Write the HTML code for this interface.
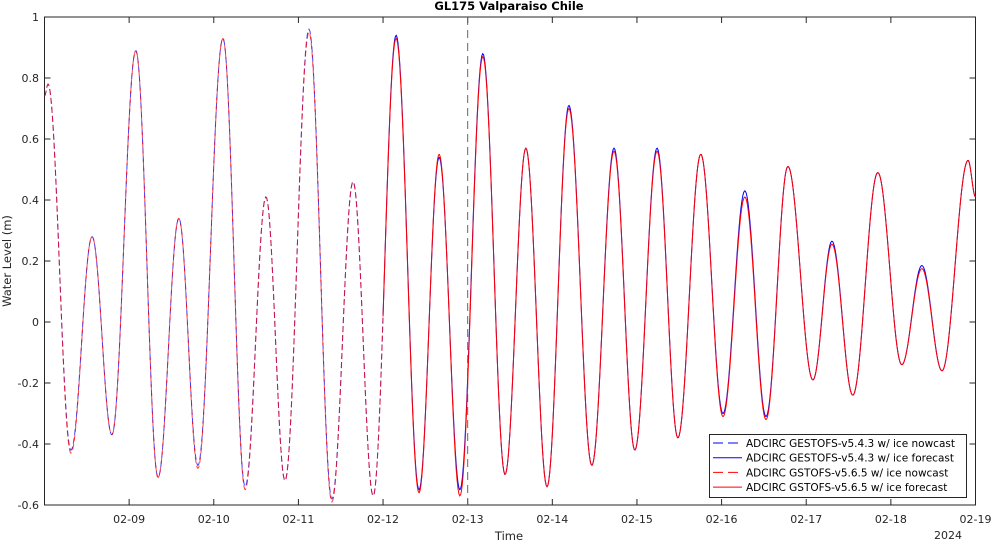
<!DOCTYPE html>
<html><head><meta charset="utf-8">
<style>
html,body{margin:0;padding:0;background:#fff;}
svg{display:block;font-family:"DejaVu Sans","Liberation Sans",sans-serif;}
</style></head>
<body>
<svg id="chart" width="992" height="541" viewBox="0 0 992 541" xmlns="http://www.w3.org/2000/svg">
<rect width="992" height="541" fill="#fff"/>
<text x="509" y="10" font-size="11.5" font-weight="bold" text-anchor="middle">GL175 Valparaiso Chile</text>
<text transform="translate(11,261) rotate(-90)" font-size="11.5" text-anchor="middle" fill="#262626">Water Level (m)</text>
<text x="509" y="540" font-size="11.5" text-anchor="middle" fill="#262626">Time</text>
<text x="948" y="539" font-size="11" text-anchor="middle" fill="#262626">2024</text>
<g id="axes"></g>
<g id="series"></g>
<g id="legend"></g>
</svg>
<script>
// time in hours from 2024-02-08 00:00
const extremaHours = [0,1,7.5,13.5,19.1,25.9,32.2,38.1,43.5,50.6,56.9,62.8,68.2,75.0,81.5,87.5,93.2,99.7,106.2,111.9,117.8,124.3,130.6,136.5,142.5,148.7,155.2,161.5,167.4,173.7,179.6,186.1,192.4,198.6,204.6,210.8,217.9,223.3,229.2,236.3,243.1,248.8,254.5,261.9,264];
const gestofsValues = [0.74,0.78,-0.42,0.28,-0.37,0.89,-0.51,0.34,-0.47,0.93,-0.54,0.41,-0.52,0.96,-0.58,0.46,-0.57,0.94,-0.55,0.54,-0.55,0.88,-0.50,0.57,-0.54,0.71,-0.47,0.57,-0.42,0.57,-0.38,0.55,-0.30,0.43,-0.31,0.51,-0.19,0.265,-0.24,0.49,-0.14,0.185,-0.16,0.53,0.41];
const gstofsValues  = [0.74,0.78,-0.43,0.28,-0.37,0.89,-0.51,0.34,-0.48,0.93,-0.55,0.41,-0.52,0.95,-0.59,0.46,-0.57,0.93,-0.56,0.55,-0.57,0.87,-0.50,0.57,-0.54,0.70,-0.47,0.56,-0.42,0.56,-0.38,0.55,-0.31,0.41,-0.32,0.51,-0.19,0.255,-0.24,0.49,-0.14,0.175,-0.16,0.53,0.41];
const forecastStartHour = 96;
const dividerHour = 120;
const xTickLabels = ["02-09","02-10","02-11","02-12","02-13","02-14","02-15","02-16","02-17","02-18","02-19"];
const yTickValues = [-0.6,-0.4,-0.2,0,0.2,0.4,0.6,0.8,1];
const legendLabels = ["ADCIRC GESTOFS-v5.4.3 w/ ice nowcast","ADCIRC GESTOFS-v5.4.3 w/ ice forecast","ADCIRC GSTOFS-v5.6.5 w/ ice nowcast","ADCIRC GSTOFS-v5.6.5 w/ ice forecast"];

const L=44.5,R=975.5,T=17,B=505;
const xMax=264,yMin=-0.6,yMax=1;
function xScale(h){return L+(h/xMax)*(R-L);}
function yScale(v){return B-(v-yMin)/(yMax-yMin)*(B-T);}
const NS="http://www.w3.org/2000/svg";
function mk(tag,attrs,parent){const e=document.createElementNS(NS,tag);for(const k in attrs)e.setAttribute(k,attrs[k]);parent.appendChild(e);return e;}

const axes=document.getElementById('axes');
const frame=mk('rect',{x:L,y:T,width:R-L,height:B-T,fill:'none',stroke:'#262626','stroke-width':1},axes);


xTickLabels.forEach((lab,i)=>{
  const x=xScale((i+1)*24);
  const t1=mk('line',{x1:x,x2:x,y1:B,y2:B-6,stroke:'#262626'},axes);
  
  
  mk('line',{x1:x,x2:x,y1:T,y2:T+6,stroke:'#262626'},axes);
  const tx=mk('text',{x:x,y:523,'font-size':11,'text-anchor':'middle',fill:'#262626'},axes);
  tx.textContent=lab;
  
  
});
yTickValues.forEach(v=>{
  const y=yScale(v);
  const t1=mk('line',{x1:L,x2:L+6,y1:y,y2:y,stroke:'#262626'},axes);
  
  
  mk('line',{x1:R,x2:R-6,y1:y,y2:y,stroke:'#262626'},axes);
  const tx=mk('text',{x:39,y:y+4,'font-size':11,'text-anchor':'end',fill:'#262626'},axes);
  tx.textContent=(v===0||v===1)?String(v):v.toFixed(1);
  
  
});
const vl=mk('line',{x1:xScale(dividerHour),x2:xScale(dividerHour),y1:T,y2:B,stroke:'#666','stroke-width':1,'stroke-dasharray':'8,5'},axes);



// smooth (half-cosine) curve through the extrema
function valueAt(hours,vals,h){
  let i=0;
  while(i<hours.length-2&&h>hours[i+1])i++;
  const a=hours[i],b=hours[i+1];
  const k=Math.max(0,Math.min(1,(h-a)/(b-a)));
  const f=(1-Math.cos(Math.PI*k))/2;
  return vals[i]+(vals[i+1]-vals[i])*f;
}
function samplePts(hours,vals,h0,h1){
  const pts=[];
  const step=0.25;
  for(let h=h0;h<h1;h+=step)pts.push([xScale(h),yScale(valueAt(hours,vals,h))]);
  pts.push([xScale(h1),yScale(valueAt(hours,vals,h1))]);
  return pts;
}
function pathD(p){return p.map((q,i)=>(i?'L':'M')+q[0].toFixed(2)+','+q[1].toFixed(2)).join('');}
const series=document.getElementById('series');
const specs=[
  {vals:gestofsValues,color:'#0000ff',dash:true,name:'gestofs-nowcast-line',h0:0,h1:forecastStartHour},
  {vals:gestofsValues,color:'#0000ff',dash:false,name:'gestofs-forecast-line',h0:forecastStartHour,h1:xMax},
  {vals:gstofsValues,color:'#ff0000',dash:true,name:'gstofs-nowcast-line',h0:0,h1:forecastStartHour},
  {vals:gstofsValues,color:'#ff0000',dash:false,name:'gstofs-forecast-line',h0:forecastStartHour,h1:xMax}
];
specs.forEach(s=>{
  const p=mk('path',{d:pathD(samplePts(extremaHours,s.vals,s.h0,s.h1)),fill:'none',stroke:s.color,'stroke-width':1,'stroke-dasharray':s.dash?'6,3':'none','stroke-opacity':s.dash?0.75:1},series);
  
  
});

const lg=document.getElementById('legend');
const lb=mk('rect',{x:709.5,y:434.5,width:257,height:63,fill:'#fff',stroke:'#262626','stroke-width':1},lg);


legendLabels.forEach((lab,i)=>{
  const y=443+i*14.7;
  const s=specs[i];
  mk('line',{x1:713,x2:742,y1:y,y2:y,stroke:s.color,'stroke-dasharray':s.dash?'10,5':'none'},lg);
  const t=mk('text',{x:746,y:y+4,'font-size':10.5,fill:'#000'},lg);
  t.textContent=lab;
  
  
});
</script>
</body></html>
